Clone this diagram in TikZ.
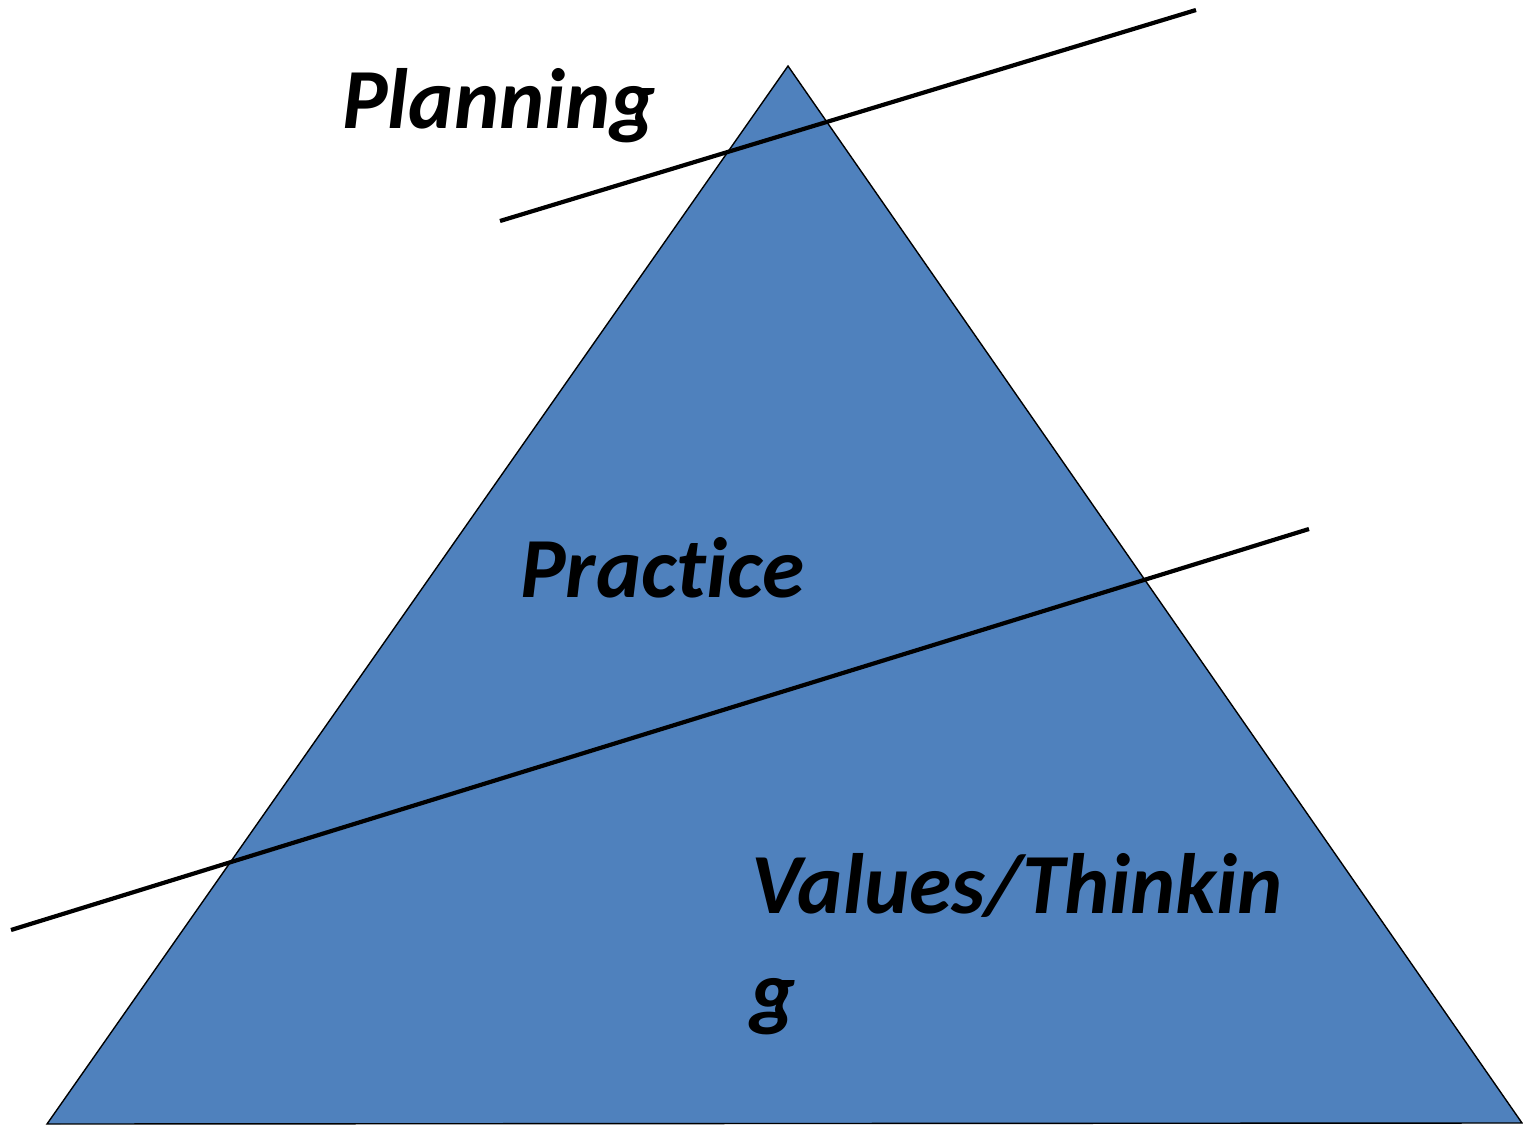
\documentclass[tikz,border=0pt]{standalone}
\usepackage{fontspec}
\setmainfont{Carlito}[Ligatures={NoCommon}]
\definecolor{pyr}{HTML}{4F81BD}
\tikzset{
  lbl/.style={anchor=base west, inner sep=0pt, font=\fontsize{42.8}{51}\selectfont\bfseries\itshape},
  cut/.style={line width=2.1pt, black}
}
\begin{document}
\begin{tikzpicture}[x=0.5pt,y=-0.5pt]
\useasboundingbox (0,0) rectangle (1523,1125);
\coordinate (apex) at (788,66);
\coordinate (bl) at (47,1124);
\coordinate (br) at (1522,1123);
\filldraw[fill=pyr, draw=black, line width=0.7pt] (apex) -- (br) -- (bl) -- cycle;
\coordinate (a1) at (500,221);
\coordinate (a2) at (1196,10);
\coordinate (b1) at (11,930);
\coordinate (b2) at (1309,529);
\draw[cut] (a1) -- (a2);
\draw[cut] (b1) -- (b2);
\node[lbl] (planning) at (342,128) {Planning};
\node[lbl] (practice) at (520,597) {Prac{}tice};
\node[lbl] (values) at (751,913) {Values/Thinkin};
\node[lbl] (g) at (750,1020) {g};
\end{tikzpicture}
\end{document}
